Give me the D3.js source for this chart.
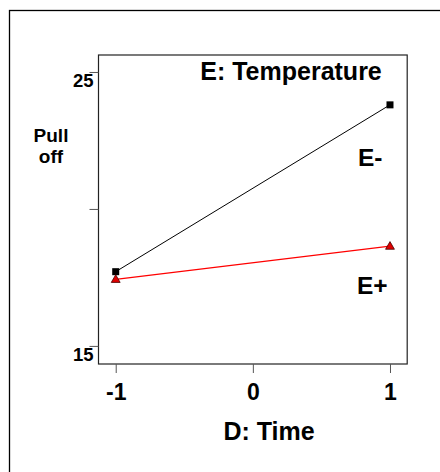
<!DOCTYPE html>
<html>
<head>
<meta charset="utf-8">
<script src="https://cdn.jsdelivr.net/npm/d3@7"></script>
<style>
  html, body { margin: 0; padding: 0; background: #fff; }
  svg { display: block; font-family: "Liberation Sans", Arial, sans-serif; }
</style>
</head>
<body>
<script>
// Data
const timeLevels = [-1, 1];
const seriesNames = ["E-", "E+"];
const eMinus = [17.71, 23.80];
const ePlus = [17.43, 18.64];
const xTicks = [-1, 0, 1];
const yTicks = [15, 20, 25];
const yTickLabels = ["15", "", "25"];

const W = 440, H = 472;
const svg = d3.select("body").append("svg").attr("width", W).attr("height", H);

const x = d3.scaleLinear().domain([-1.1255, 1.1255]).range([98.5, 407.2]);
const y = d3.scaleLinear().domain([14.34, 25.62]).range([364, 55]);

// outer frame (extends beyond the page)
svg.append("rect").attr("x", 9.5).attr("y", 10.5).attr("width", 600).attr("height", 600)
  .attr("fill", "none").attr("stroke", "#000").attr("stroke-width", 1.3);

// plot frame
const [x0, x1] = x.range();
const [y0, y1] = y.range();
svg.append("rect").attr("x", x0).attr("y", y1).attr("width", x1 - x0).attr("height", y0 - y1)
  .attr("fill", "none").attr("stroke", "#222").attr("stroke-width", 1.2);

// Y axis
const yAxis = d3.axisLeft(y).tickValues(yTicks).tickSize(9).tickFormat((d, i) => yTickLabels[i]);
const gy = svg.append("g").attr("transform", `translate(${x0},0)`).call(yAxis);
gy.select(".domain").remove();
gy.selectAll(".tick line").attr("stroke", "#555").attr("stroke-width", 1);
gy.selectAll(".tick text").attr("font-size", 18.5).attr("font-weight", "bold").attr("fill", "#000")
  .attr("font-family", "Liberation Sans, Arial, sans-serif")
  .attr("x", -5).attr("dy", null).attr("y", 14.5);

// X axis
const xAxis = d3.axisBottom(x).tickValues(xTicks).tickSize(9).tickFormat(d3.format("d"));
const gx = svg.append("g").attr("transform", `translate(0,${y0})`).call(xAxis);
gx.select(".domain").remove();
gx.selectAll(".tick line").attr("stroke", "#555").attr("stroke-width", 1);
gx.selectAll(".tick text").attr("font-size", 23).attr("font-weight", "bold").attr("fill", "#000")
  .attr("font-family", "Liberation Sans, Arial, sans-serif")
  .attr("dy", null).attr("y", 36).text(d => d < 0 ? "-" + Math.abs(d) : d);

// Lines
const line = d3.line().x((d, i) => x(timeLevels[i])).y(d => y(d));
svg.append("path").datum(eMinus).attr("d", line).attr("fill", "none").attr("stroke", "#000").attr("stroke-width", 1);
svg.append("path").datum(ePlus).attr("d", line).attr("fill", "none").attr("stroke", "#ff0000").attr("stroke-width", 1.3);

// Markers
svg.selectAll("rect.sq").data(eMinus).enter().append("rect").attr("class", "sq")
  .attr("x", (d, i) => x(timeLevels[i]) - 3.5).attr("y", d => y(d) - 3.5)
  .attr("width", 7).attr("height", 7).attr("fill", "#000");
const tri = d3.symbol().type(d3.symbolTriangle).size(34);
svg.selectAll("path.tri").data(ePlus).enter().append("path").attr("class", "tri")
  .attr("d", tri)
  .attr("transform", (d, i) => `translate(${x(timeLevels[i])},${y(d) + 0.5})`)
  .attr("fill", "#e00000").attr("stroke", "#400").attr("stroke-width", 0.8);

// Texts
const bold = sel => sel.attr("font-weight", "bold").attr("fill", "#000");
svg.append("text").attr("x", 291).attr("y", 80).attr("text-anchor", "middle")
  .attr("font-size", 25).call(bold).text("E: Temperature");
svg.append("text").attr("x", 269).attr("y", 440).attr("text-anchor", "middle")
  .attr("font-size", 25).call(bold).text("D: Time");
svg.append("text").attr("x", 51).attr("y", 141.5).attr("text-anchor", "middle")
  .attr("font-size", 19).call(bold).text("Pull");
svg.append("text").attr("x", 51).attr("y", 163).attr("text-anchor", "middle")
  .attr("font-size", 19).call(bold).text("off");
svg.append("text").attr("x", 358).attr("y", 166).attr("font-size", 24.5).call(bold).text(seriesNames[0]);
svg.append("text").attr("x", 357).attr("y", 294).attr("font-size", 24.5).call(bold).text(seriesNames[1]);
</script>
</body>
</html>
